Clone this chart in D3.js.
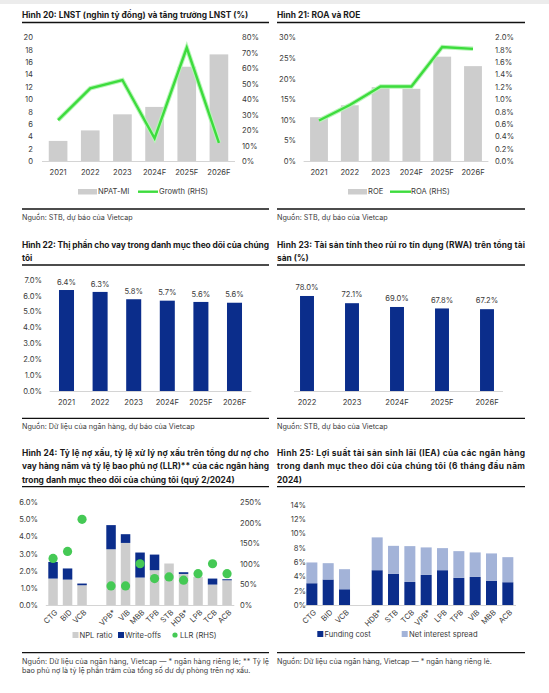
<!DOCTYPE html>
<html><head><meta charset="utf-8">
<script src="https://cdn.jsdelivr.net/npm/d3@7/dist/d3.min.js"></script>
<style>body{margin:0;background:#fff}svg{display:block;font-family:Inter,"Noto Sans",sans-serif}</style>
</head><body>
<script>
// ---------- DATA ----------
const years6 = ["2021","2022","2023","2024F","2025F","2026F"];
const npatMi = [3.3, 5.0, 7.6, 8.8, 15.3, 17.3];
const npatGrowth = [26.7, 47.2, 52.6, 14.9, 73.5, 12.0];
const roe = [10.7, 13.6, 18.0, 17.6, 25.4, 23.1];
const roa = [0.66, 0.91, 1.21, 1.21, 1.85, 1.82];
const loanShare = [6.37, 6.25, 5.79, 5.70, 5.62, 5.57];
const rwaYears = ["2022","2023","2024F","2025F","2026F"];
const rwaRatio = [78.0, 72.1, 69.0, 67.8, 67.2];
const nplBanks = ["CTG","BID","VCB","VPB*","VIB","MBB","TPB","STB","HDB*","LPB","TCB","ACB"];
const nplRatio = [1.56, 1.50, 1.17, 3.27, 3.64, 1.62, 2.05, 2.44, 1.83, 1.66, 1.21, 1.46];
const writeOffs = [0.97, 0.65, 0.10, 1.41, 0.51, 1.46, 0.91, 0.00, 0.10, 0.00, 0.35, 0.06];
const llr = [114, 131, 209, 47, 47, 101, 65, 69, 61, 77, 101, 77];
const ieaBanks = ["CTG","BID","VCB","HDB*","STB","TCB","VPB*","LPB","TPB","VIB","MBB","ACB"];
const fundingCost = [3.08, 3.60, 2.24, 4.90, 4.38, 3.26, 4.24, 4.90, 3.83, 3.96, 3.40, 3.22];
const netSpread = [2.90, 2.28, 2.80, 4.58, 3.92, 5.00, 3.84, 3.08, 3.73, 3.42, 3.84, 3.50];
const ticks20L = [0,2,4,6,8,10,12,14,16,18,20];
const ticks20R = [0,10,20,30,40,50,60,70,80];
const ticks21L = [0,5,10,15,20,25,30];
const ticks21R = [0,0.2,0.4,0.6,0.8,1.0,1.2,1.4,1.6,1.8,2.0];
const ticks22 = [0,1,2,3,4,5,6,7];
const ticks24L = [0,1,2,3,4,5,6];
const ticks24R = [0,50,100,150,200,250];
const ticks25 = [0,2,4,6,8,10,12,14];

// ---------- STYLE ----------
const GRAY = "#cdcdcd", NAVY = "#0b2d8b", LIGHT = "#a3b3d8", GREEN = "#3ddc3d", DOT = "#45c955";
const TXT = "#3a3a3a", FS = 7.6, TFS = 8.4, SFS = 7.2;

const svg = d3.select("body").append("svg").attr("width",549).attr("height",693);
svg.append("rect").attr("width",549).attr("height",693).attr("fill","#fff");
svg.append("rect").attr("width",549).attr("height",4).attr("fill","#ececec");

function title(x, y, lines, width){
  lines.forEach((t,i)=>{
    const el = svg.append("text").attr("x",x).attr("y",y+i*13.3).attr("dy","0.35em")
      .attr("font-size",TFS).attr("font-weight",700).attr("fill","#1a1a1a").text(t);
    if (i < lines.length-1) el.attr("textLength",width).attr("lengthAdjust","spacing");
  });
}
function rule(x1,x2,y){ svg.append("line").attr("x1",x1).attr("x2",x2).attr("y1",y).attr("y2",y).attr("stroke","#111").attr("stroke-width",1.3); }
function source(x,y,lines,width){
  lines.forEach((t,i)=>{
    const el = svg.append("text").attr("x",x).attr("y",y+i*9.8).attr("dy","0.35em")
      .attr("font-size",SFS).attr("fill",TXT).text(t);
    if (i < lines.length-1) el.attr("textLength",width).attr("lengthAdjust","spacing");
  });
}
function yTicks(scale, ticks, x, anchor, fmt){
  svg.append("g").selectAll("text").data(ticks).join("text")
    .attr("x",x).attr("y",d=>scale(d)).attr("dy","0.35em").attr("text-anchor",anchor)
    .attr("font-size",FS).attr("fill",TXT).text(fmt);
}
function xLabels(scale, cats, y){
  svg.append("g").selectAll("text").data(cats).join("text")
    .attr("x",d=>scale(d)+scale.bandwidth()/2).attr("y",y).attr("dy","0.35em").attr("text-anchor","middle")
    .attr("font-size",FS).attr("fill",TXT).text(d=>d);
}
function baseline(x1,x2,y){ svg.append("line").attr("x1",x1).attr("x2",x2).attr("y1",y).attr("y2",y).attr("stroke","#d4d4d4").attr("stroke-width",1); }
function rotLabels(scale, cats, y){
  svg.append("g").selectAll("text").data(cats).join("text")
    .attr("transform",d=>`translate(${scale(d)+scale.bandwidth()/2+3},${y}) rotate(-45)`)
    .attr("dy","0.35em").attr("text-anchor","end")
    .attr("font-size",FS).attr("fill",TXT).text(d=>d);
}

// ---------- PANEL 20 ----------
title(22, 15, ["Hình 20: LNST (nghìn tỷ đồng) và tăng trưởng LNST (%)"], 247);
rule(22, 269, 22.5);
{
  const x = d3.scaleBand().domain(years6).range([42,235]).paddingInner(0.42).paddingOuter(0.21);
  const yL = d3.scaleLinear().domain([0,20]).range([161.3,37.7]);
  const yR = d3.scaleLinear().domain([0,80]).range([161.3,37.7]);
  yTicks(yL, ticks20L, 33, "end", d=>d);
  yTicks(yR, ticks20R, 242, "start", d=>d+"%");
  svg.append("g").selectAll("rect").data(npatMi).join("rect")
    .attr("x",(d,i)=>x(years6[i])).attr("width",x.bandwidth())
    .attr("y",d=>yL(d)).attr("height",d=>yL(0)-yL(d)).attr("fill",GRAY);
  baseline(42,235,161.5);
  const line = d3.line().x((d,i)=>x(years6[i])+x.bandwidth()/2).y(d=>yR(d));
  svg.append("path").datum(npatGrowth).attr("d",line).attr("fill","none").attr("stroke","#b8f5b8").attr("stroke-width",4.5).attr("stroke-linejoin","miter");
  svg.append("path").datum(npatGrowth).attr("d",line).attr("fill","none").attr("stroke",GREEN).attr("stroke-width",2.4).attr("stroke-linejoin","miter");
  xLabels(x, years6, 172.5);
  svg.append("rect").attr("x",78).attr("y",189).attr("width",19).attr("height",5.5).attr("fill",GRAY);
  svg.append("text").attr("x",98).attr("y",191.7).attr("dy","0.35em").attr("font-size",FS).attr("fill",TXT).text("NPAT-MI");
  svg.append("line").attr("x1",138).attr("x2",158).attr("y1",191.7).attr("y2",191.7).attr("stroke",GREEN).attr("stroke-width",2.4);
  svg.append("text").attr("x",159).attr("y",191.7).attr("dy","0.35em").attr("font-size",FS).attr("fill",TXT).text("Growth (RHS)");
}
rule(22, 269, 209);
source(22, 217, ["Nguồn: STB, dự báo của Vietcap"], 247);

// ---------- PANEL 21 ----------
title(277, 15, ["Hình 21: ROA và ROE"], 248);
rule(277, 525, 22.5);
{
  const x = d3.scaleBand().domain(years6).range([303.6,488.4]).paddingInner(0.42).paddingOuter(0.21);
  const yL = d3.scaleLinear().domain([0,30]).range([161.3,37.7]);
  const yR = d3.scaleLinear().domain([0,2]).range([161.3,37.7]);
  yTicks(yL, ticks21L, 296, "end", d=>d+"%");
  yTicks(yR, ticks21R, 495, "start", d=>d3.format(".1f")(d)+"%");
  svg.append("g").selectAll("rect").data(roe).join("rect")
    .attr("x",(d,i)=>x(years6[i])).attr("width",x.bandwidth())
    .attr("y",d=>yL(d)).attr("height",d=>yL(0)-yL(d)).attr("fill",GRAY);
  baseline(303.6,488.4,161.5);
  const line = d3.line().x((d,i)=>x(years6[i])+x.bandwidth()/2).y(d=>yR(d));
  svg.append("path").datum(roa).attr("d",line).attr("fill","none").attr("stroke","#b8f5b8").attr("stroke-width",4.5);
  svg.append("path").datum(roa).attr("d",line).attr("fill","none").attr("stroke",GREEN).attr("stroke-width",2.4);
  xLabels(x, years6, 172.5);
  svg.append("rect").attr("x",348).attr("y",189).attr("width",19).attr("height",5.5).attr("fill",GRAY);
  svg.append("text").attr("x",368).attr("y",191.7).attr("dy","0.35em").attr("font-size",FS).attr("fill",TXT).text("ROE");
  svg.append("line").attr("x1",390).attr("x2",411).attr("y1",191.7).attr("y2",191.7).attr("stroke",GREEN).attr("stroke-width",2.4);
  svg.append("text").attr("x",411).attr("y",191.7).attr("dy","0.35em").attr("font-size",FS).attr("fill",TXT).text("ROA (RHS)");
}
rule(277, 525, 209);
source(277, 217, ["Nguồn: STB, dự báo của Vietcap"], 248);

// ---------- PANEL 22 ----------
title(22, 245, ["Hình 22: Thị phần cho vay trong danh mục theo dõi của chúng","tôi"], 247);
rule(22, 269, 265);
{
  const x = d3.scaleBand().domain(years6).range([49.7,251.3]).paddingInner(0.553).paddingOuter(0.2765);
  const y = d3.scaleLinear().domain([0,7]).range([391.3,280]);
  yTicks(y, ticks22, 42, "end", d=>d3.format(".1f")(d)+"%");
  svg.append("g").selectAll("rect").data(loanShare).join("rect")
    .attr("x",(d,i)=>x(years6[i])).attr("width",x.bandwidth())
    .attr("y",d=>y(d)).attr("height",d=>y(0)-y(d)).attr("fill",NAVY);
  svg.append("g").selectAll("text").data(loanShare).join("text")
    .attr("x",(d,i)=>x(years6[i])+x.bandwidth()/2).attr("y",d=>y(d)-8).attr("dy","0.35em")
    .attr("text-anchor","middle").attr("font-size",FS).attr("fill",TXT).text(d=>d3.format(".1f")(d)+"%");
  baseline(49.7,251.3,391.5);
  xLabels(x, years6, 402.7);
}
rule(22, 269, 418.3);
source(22, 426, ["Nguồn: Dữ liệu của ngân hàng, dự báo của Vietcap"], 247);

// ---------- PANEL 23 ----------
title(277, 245, ["Hình 23: Tài sản tính theo rủi ro tín dụng (RWA) trên tổng tài","sản (%)"], 248);
rule(277, 525, 265);
{
  const x = d3.scaleBand().domain(rwaYears).range([284.5,509.5]).paddingInner(0.69).paddingOuter(0.345);
  const y = d3.scaleLinear().domain([0,100]).range([391.3,269.1]);
  svg.append("g").selectAll("rect").data(rwaRatio).join("rect")
    .attr("x",(d,i)=>x(rwaYears[i])).attr("width",x.bandwidth())
    .attr("y",d=>y(d)).attr("height",d=>y(0)-y(d)).attr("fill",NAVY);
  svg.append("g").selectAll("text").data(rwaRatio).join("text")
    .attr("x",(d,i)=>x(rwaYears[i])+x.bandwidth()/2).attr("y",d=>y(d)-8.5).attr("dy","0.35em")
    .attr("text-anchor","middle").attr("font-size",FS).attr("fill",TXT).text(d=>d3.format(".1f")(d)+"%");
  baseline(294,503,391.5);
  xLabels(x, rwaYears, 402.7);
}
rule(277, 525, 418.3);
source(277, 426, ["Nguồn: STB, dự báo của Vietcap"], 248);

// ---------- PANEL 24 ----------
title(22, 453, ["Hình 24: Tỷ lệ nợ xấu, tỷ lệ xử lý nợ xấu trên tổng dư nợ cho",
  "vay hàng năm và tỷ lệ bao phủ nợ (LLR)** của các ngân hàng",
  "trong danh mục theo dõi của chúng tôi (quý 2/2024)"], 247);
rule(22, 269, 486.7);
{
  const dom = [...nplBanks.slice(0,3), "gap", ...nplBanks.slice(3)];
  const x = d3.scaleBand().domain(dom).range([45.8,234.3]).paddingInner(0.345).paddingOuter(0.1725);
  const yL = d3.scaleLinear().domain([0,6]).range([605.3,502.5]);
  const yR = d3.scaleLinear().domain([0,250]).range([605.3,502.5]);
  yTicks(yL, ticks24L, 38, "end", d=>d3.format(".1f")(d)+"%");
  yTicks(yR, ticks24R, 240, "start", d=>d+"%");
  const g = svg.append("g");
  nplBanks.forEach((b,i)=>{
    g.append("rect").attr("x",x(b)).attr("width",x.bandwidth()).attr("y",yL(nplRatio[i])).attr("height",yL(0)-yL(nplRatio[i])).attr("fill",GRAY);
    if (writeOffs[i] > 0) g.append("rect").attr("x",x(b)).attr("width",x.bandwidth())
      .attr("y",yL(nplRatio[i]+writeOffs[i])).attr("height",yL(nplRatio[i])-yL(nplRatio[i]+writeOffs[i])).attr("fill",NAVY);
  });
  baseline(45.8,234.3,605.5);
  svg.append("g").selectAll("circle").data(llr).join("circle")
    .attr("cx",(d,i)=>x(nplBanks[i])+x.bandwidth()/2).attr("cy",d=>yR(d)).attr("r",4.6).attr("fill",DOT);
  rotLabels(x, nplBanks, 611);
  svg.append("rect").attr("x",72.5).attr("y",632).attr("width",6).attr("height",6).attr("fill",GRAY);
  svg.append("text").attr("x",79.5).attr("y",635).attr("dy","0.35em").attr("font-size",FS).attr("fill",TXT).text("NPL ratio");
  svg.append("rect").attr("x",118).attr("y",632).attr("width",6).attr("height",6).attr("fill",NAVY);
  svg.append("text").attr("x",125).attr("y",635).attr("dy","0.35em").attr("font-size",FS).attr("fill",TXT).text("Write-offs");
  svg.append("circle").attr("cx",175).attr("cy",635).attr("r",2.6).attr("fill",DOT);
  svg.append("text").attr("x",180).attr("y",635).attr("dy","0.35em").attr("font-size",FS).attr("fill",TXT).text("LLR (RHS)");
}
rule(22, 269, 652.7);
source(22, 661, ["Nguồn: Dữ liệu của ngân hàng, Vietcap — * ngân hàng riêng lẻ; ** Tỷ lệ",
  "bao phủ nợ là tỷ lệ phần trăm của tổng số dư dự phòng trên nợ xấu."], 247);

// ---------- PANEL 25 ----------
title(277, 453, ["Hình 25: Lợi suất tài sản sinh lãi (IEA) của các ngân hàng",
  "trong danh mục theo dõi của chúng tôi (6 tháng đầu năm","2024)"], 248);
rule(277, 525, 486.7);
{
  const dom = [...ieaBanks.slice(0,3), "gap", ...ieaBanks.slice(3)];
  const x = d3.scaleBand().domain(dom).range([303.7,516]).paddingInner(0.326).paddingOuter(0.163);
  const y = d3.scaleLinear().domain([0,14]).range([605.3,505]);
  yTicks(y, ticks25, 306, "end", d=>d+"%");
  const g = svg.append("g");
  ieaBanks.forEach((b,i)=>{
    g.append("rect").attr("x",x(b)).attr("width",x.bandwidth()).attr("y",y(fundingCost[i])).attr("height",y(0)-y(fundingCost[i])).attr("fill",NAVY);
    g.append("rect").attr("x",x(b)).attr("width",x.bandwidth()).attr("y",y(fundingCost[i]+netSpread[i])).attr("height",y(fundingCost[i])-y(fundingCost[i]+netSpread[i])).attr("fill",LIGHT);
  });
  baseline(303.7,516,605.5);
  rotLabels(x, ieaBanks, 611);
  svg.append("rect").attr("x",317.3).attr("y",631).attr("width",6).attr("height",6).attr("fill",NAVY);
  svg.append("text").attr("x",324.5).attr("y",634).attr("dy","0.35em").attr("font-size",FS).attr("fill",TXT).text("Funding cost");
  svg.append("rect").attr("x",401.7).attr("y",631).attr("width",6).attr("height",6).attr("fill",LIGHT);
  svg.append("text").attr("x",409).attr("y",634).attr("dy","0.35em").attr("font-size",FS).attr("fill",TXT).text("Net interest spread");
}
rule(277, 525, 652.7);
source(277, 661, ["Nguồn: Dữ liệu của ngân hàng, Vietcap — * ngân hàng riêng lẻ."], 248);
</script>
</body></html>
